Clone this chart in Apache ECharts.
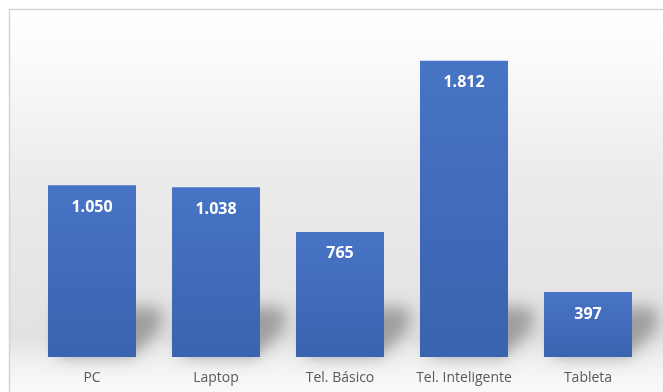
<!DOCTYPE html>
<html>
<head>
<meta charset="utf-8">
<script src="https://cdn.jsdelivr.net/npm/echarts@6/dist/echarts.min.js"></script>
<style>
  html, body { margin: 0; padding: 0; background: #ffffff; }
  #chart { width: 663px; height: 392px; }
</style>
</head>
<body>
<div id="chart"></div>
<script>
// Devices and counts shown on the chart
const categories = ['PC', 'Laptop', 'Tel. Básico', 'Tel. Inteligente', 'Tableta'];
const counts = [1050, 1038, 765, 1812, 397];

// Spanish-style thousands separator: 1050 -> "1.050"
function fmt(v) {
  return String(v).replace(/\B(?=(\d{3})+(?!\d))/g, '.');
}

const chart = echarts.init(document.getElementById('chart'), null, { renderer: 'canvas' });

const OFF = 3000; // draw shadow shapes off-canvas so only their blurred shadow shows

chart.setOption({
  animation: false,
  backgroundColor: '#ffffff',
  graphic: [
    {
      type: 'rect', z: -10, silent: true,
      shape: { x: 10, y: 10, width: 653, height: 382 },
      style: {
        fill: new echarts.graphic.LinearGradient(0, 0, 0, 1, [
          { offset: 0, color: '#ffffff' },
          { offset: 0.12, color: '#fbfbfb' },
          { offset: 0.45, color: '#ebebeb' },
          { offset: 0.86, color: '#e2e2e2' },
          { offset: 0.92, color: '#f0f0f0' },
          { offset: 0.97, color: '#f7f7f7' },
          { offset: 1, color: '#f9f9f9' }
        ])
      }
    },
    {
      type: 'polyline', z: -9, silent: true,
      shape: { points: [[9.5, 392], [9.5, 9.5], [663, 9.5]] },
      style: { stroke: '#d4d4d4', lineWidth: 1.5, fill: null }
    }
  ],
  grid: { left: 30, right: 13, top: 30, bottom: 35, containLabel: false },
  xAxis: {
    type: 'category',
    data: categories,
    axisLine: { show: false },
    axisTick: { show: false },
    axisLabel: {
      interval: 0,
      hideOverlap: false,
      color: '#595959',
      fontFamily: 'Open Sans',
      fontSize: 14,
      margin: 14
    }
  },
  yAxis: {
    type: 'value',
    min: 0,
    max: 2000,
    show: false,
    splitLine: { show: false }
  },
  series: [
    {
      // soft floor shadow cast behind each bar
      type: 'custom',
      z: 1,
      silent: true,
      data: counts.map((v, i) => [i, v]),
      renderItem: function (params, api) {
        const base = api.coord([api.value(0), 0]);
        const top = api.coord([api.value(0), api.value(1)]);
        const band = api.size([1, 0])[0];
        const w = band * 0.71;
        const x0 = base[0] - w / 2;
        const x1 = base[0] + w / 2;
        const yb = base[1];
        const h = yb - top[1];
        const S = Math.min(h * 0.85, 50);
        const d = 30;
        const pts = [
          [x0 + 10, yb],
          [x1 - 4, yb],
          [x1 + d - 4, yb - d],
          [x1 + d - 6, yb - S],
          [x0 + 10, yb - S]
        ].map(p => [p[0] - OFF, p[1]]);
        return {
          type: 'polygon',
          shape: { points: pts },
          style: {
            fill: '#000',
            shadowColor: 'rgba(0,0,0,0.3)',
            shadowBlur: 16,
            shadowOffsetX: OFF,
            shadowOffsetY: 0
          }
        };
      }
    },
    {
      type: 'bar',
      z: 5,
      data: counts,
      barWidth: '71%',
      itemStyle: {
        color: new echarts.graphic.LinearGradient(0, 0, 0, 1, [
          { offset: 0, color: '#4874c6' },
          { offset: 1, color: '#3a63b0' }
        ])
      },
      label: {
        show: true,
        position: 'insideTop',
        distance: 14,
        color: '#ffffff',
        fontFamily: 'Open Sans',
        fontWeight: 'bold',
        fontSize: 16,
        formatter: p => fmt(p.value)
      }
    }
  ]
});
</script>
</body>
</html>
